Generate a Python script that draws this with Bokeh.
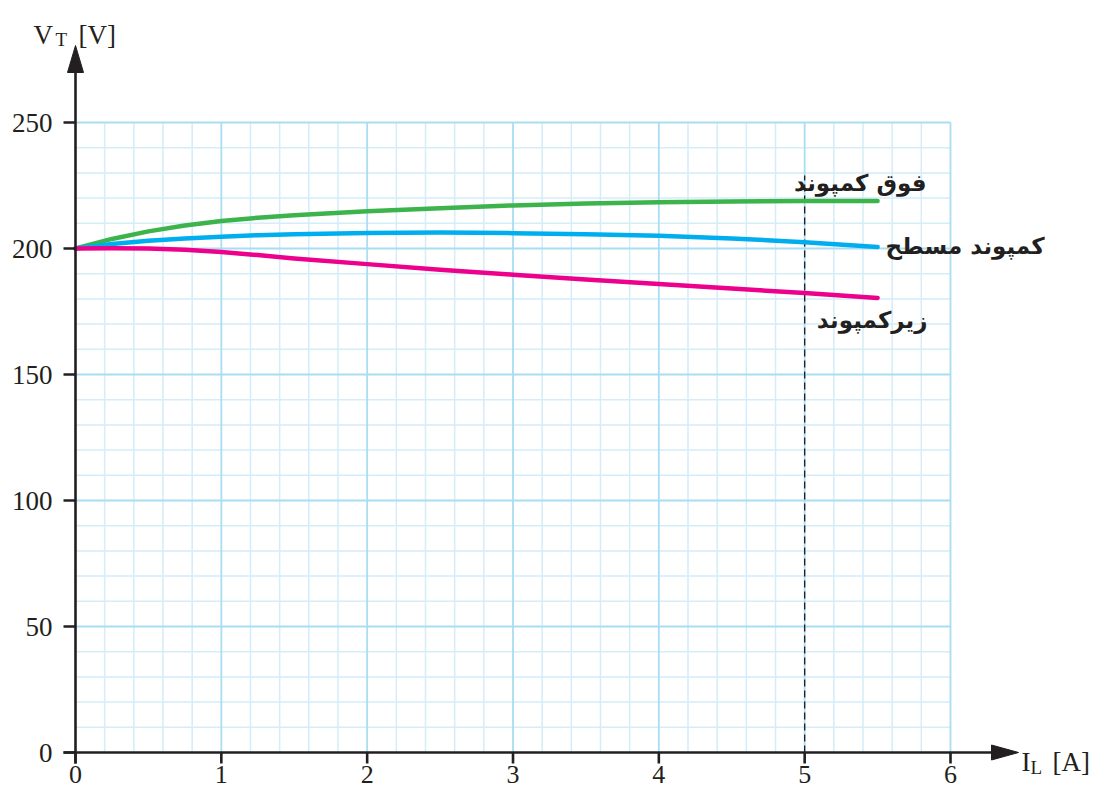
from bokeh.plotting import figure
from bokeh.models import Range1d
from bokeh.core.properties import value
from bokeh.embed import file_html
from bokeh.resources import INLINE

# ---------------- data ----------------
current = [0, 0.25, 0.5, 0.75, 1, 1.25, 1.5, 2, 2.5, 3, 3.5, 4, 4.5, 5, 5.5]
over_compound = [200, 203.8, 206.8, 209.1, 210.9, 212.2, 213.2, 214.8, 216.0, 217.1, 217.9, 218.4, 218.7, 218.8, 218.8]
flat_compound = [200, 201.8, 203.1, 204.0, 204.7, 205.3, 205.7, 206.2, 206.3, 206.1, 205.7, 205.1, 204.0, 202.5, 200.6]
under_compound = [200, 200.1, 200.0, 199.5, 198.6, 197.4, 196.0, 193.8, 191.6, 189.6, 187.7, 185.9, 184.1, 182.3, 180.4]

x_ticks = [0, 1, 2, 3, 4, 5, 6]
y_ticks = [0, 50, 100, 150, 200, 250]
x_minor = [round(0.2 * i, 1) for i in range(1, 30) if i % 5 != 0]
y_minor = [10 * i for i in range(1, 25) if i % 5 != 0]
series_names = ["فوق کمپوند", "کمپوند مسطح", "زیرکمپوند"]
marker_current = 5

# ---------------- geometry helpers ----------------
W, H = 1093, 789
X0, XS = 75.0, 875.0 / 6      # px of x=0, px per A
Y0, YS = 752.0, (752.0 - 122.0) / 250  # px of y=0, px per V


def px2x(px):
    return (px - X0) / XS


def px2y(py):
    return (Y0 - py) / YS


def dx(px):
    return px / XS


def dy(px):
    return px / YS


p = figure(width=W, height=H, output_backend="svg", toolbar_location=None,
           x_axis_type=None, y_axis_type=None, min_border=0,
           x_range=Range1d(px2x(0), px2x(W)),
           y_range=Range1d(px2y(H), px2y(0)))
p.outline_line_color = None
p.grid.visible = False
p.background_fill_color = "white"

XMAX, YMAX = x_ticks[-1], y_ticks[-1]
minor_col, major_col = "#d3edf9", "#a9ddf4"
# minor grid
p.segment(x0=x_minor, y0=[0] * len(x_minor), x1=x_minor, y1=[YMAX] * len(x_minor),
          line_color=minor_col, line_width=1.5)
p.segment(x0=[0] * len(y_minor), y0=y_minor, x1=[XMAX] * len(y_minor), y1=y_minor,
          line_color=minor_col, line_width=1.5)
# major grid
p.segment(x0=x_ticks[1:], y0=[0] * 6, x1=x_ticks[1:], y1=[YMAX] * 6,
          line_color=major_col, line_width=1.8)
p.segment(x0=[0] * 5, y0=y_ticks[1:], x1=[XMAX] * 5, y1=y_ticks[1:],
          line_color=major_col, line_width=1.8)

# dashed marker at 5 A
p.segment(x0=[marker_current], y0=[0], x1=[marker_current], y1=[px2y(175)],
          line_color="#231f20", line_width=1.3, line_dash="7 4")

# curves
p.line(current, over_compound, line_color="#3cb44b", line_width=4.5, line_cap="round", line_join="round")
p.line(current, flat_compound, line_color="#00aeef", line_width=4.5, line_cap="round", line_join="round")
p.line(current, under_compound, line_color="#ec008c", line_width=4.5, line_cap="round", line_join="round")

# axes
axc = "#231f20"
y_tip, x_tip = px2y(45), px2x(1018)
p.segment(x0=[0], y0=[-dy(11)], x1=[0], y1=[y_tip - dy(20)], line_color=axc, line_width=2.6)
p.segment(x0=[-dx(12)], y0=[0], x1=[x_tip - dx(20)], y1=[0], line_color=axc, line_width=2.6)
p.patch([0, -dx(8), dx(8)], [y_tip, y_tip - dy(27), y_tip - dy(27)], color=axc)
p.patch([x_tip, x_tip - dx(27), x_tip - dx(27)], [0, dy(7.5), -dy(7.5)], color=axc)
# ticks
p.segment(x0=x_ticks, y0=[0] * 7, x1=x_ticks, y1=[-dy(11)] * 7, line_color=axc, line_width=2.6)
p.segment(x0=[0] * 6, y0=y_ticks, x1=[-dx(12)] * 6, y1=y_ticks, line_color=axc, line_width=2.6)

serif = value("Liberation Serif")
p.text(x=[px2x(52)] * 6, y=y_ticks, text=[str(v) for v in y_ticks], text_font=serif,
       text_font_size="27px", text_color=axc, text_align="right", text_baseline="middle")
p.text(x=x_ticks, y=[px2y(765)] * 7, text=[str(v) for v in x_ticks], text_font=serif,
       text_font_size="26px", text_color=axc, text_align="center", text_baseline="top")

# axis titles
p.text(x=[px2x(33)], y=[px2y(34)], text=["V"], text_font=serif, text_font_size="27px",
       text_color=axc, text_baseline="alphabetic")
p.text(x=[px2x(55)], y=[px2y(39)], text=["T"], text_font=serif, text_font_size="19px",
       text_color=axc, text_baseline="alphabetic")
p.text(x=[px2x(78)], y=[px2y(34)], text=["[V]"], text_font=serif, text_font_size="27px",
       text_color=axc, text_baseline="alphabetic")
p.text(x=[px2x(1021)], y=[px2y(761)], text=["I"], text_font=serif, text_font_size="27px",
       text_color=axc, text_baseline="alphabetic")
p.text(x=[px2x(1030)], y=[px2y(767)], text=["L"], text_font=serif, text_font_size="19px",
       text_color=axc, text_baseline="alphabetic")
p.text(x=[px2x(1052)], y=[px2y(761)], text=["[A]"], text_font=serif, text_font_size="27px",
       text_color=axc, text_baseline="alphabetic")

# series labels (Persian)
fa = value("DejaVu Sans")
p.text(x=[px2x(926)], y=[px2y(182)], text=[series_names[0]], text_font=fa, text_font_style="bold",
       text_font_size="23px", text_color=axc, text_align="right", text_baseline="middle")
p.text(x=[px2x(885)], y=[px2y(245)], text=[series_names[1]], text_font=fa, text_font_style="bold",
       text_font_size="23px", text_color=axc, text_align="left", text_baseline="middle")
p.text(x=[px2x(927)], y=[px2y(319)], text=[series_names[2]], text_font=fa, text_font_style="bold",
       text_font_size="23px", text_color=axc, text_align="right", text_baseline="middle")

open("out.html", "w").write(file_html(p, INLINE))
